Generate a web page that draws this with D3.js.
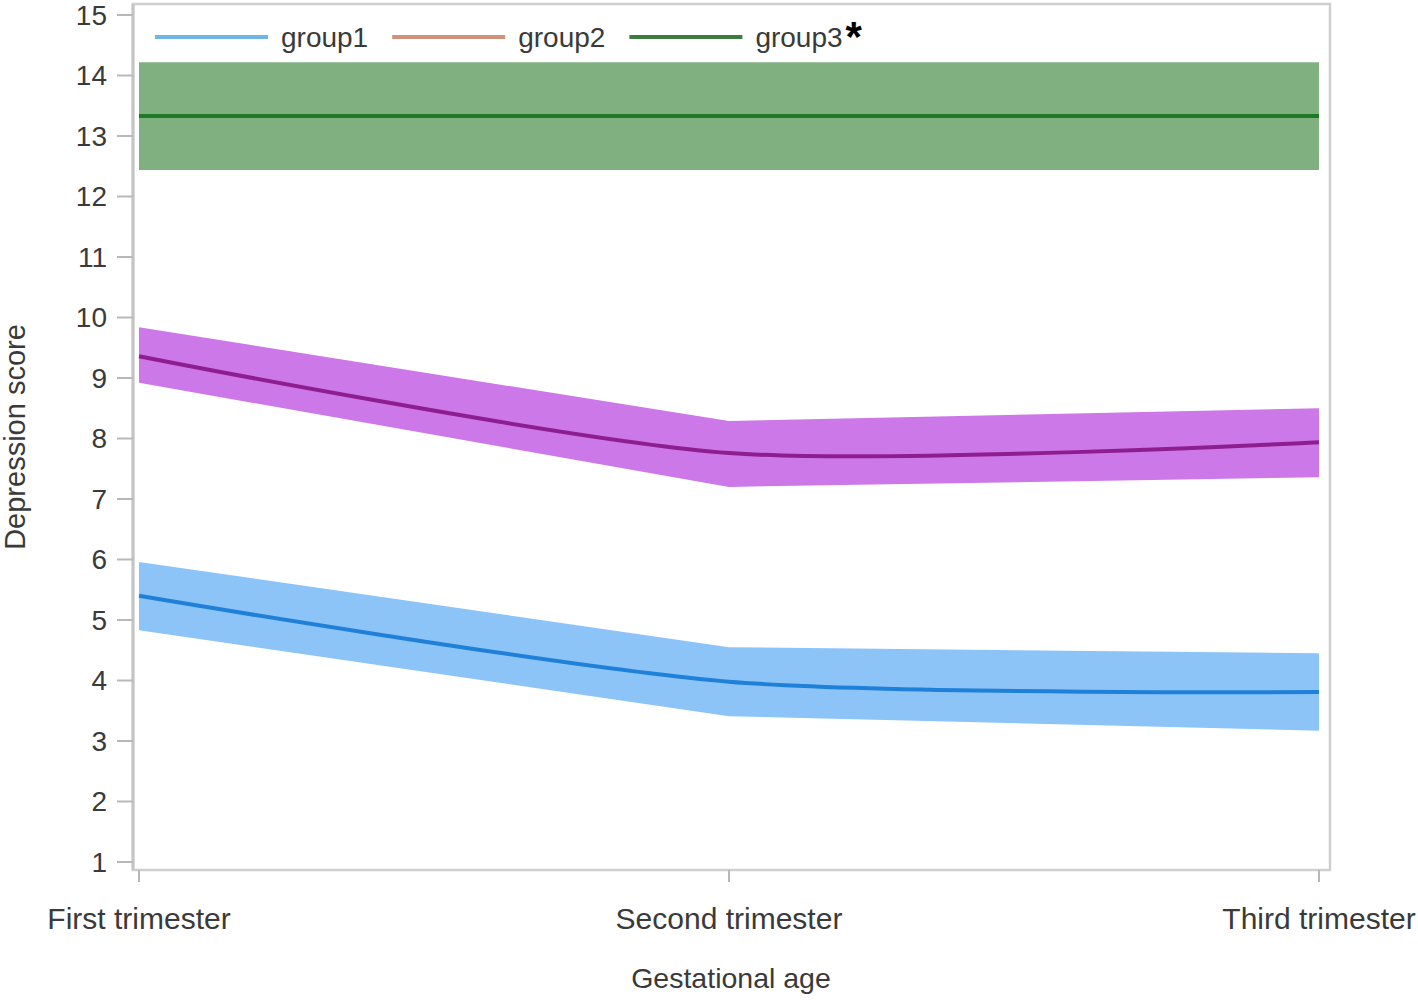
<!DOCTYPE html>
<html>
<head>
<meta charset="utf-8">
<script src="https://cdn.jsdelivr.net/npm/d3@7"></script>
<style>
  html, body { margin: 0; padding: 0; background: #fff; }
  svg { display: block; }
  text { font-family: "Liberation Sans", Arial, sans-serif; fill: #3a3a3a; }
</style>
</head>
<body>
<svg id="chart" width="1418" height="1000"></svg>
<script>
// ---- data ----
const categories = ["First trimester", "Second trimester", "Third trimester"];
const yTicks = [1, 2, 3, 4, 5, 6, 7, 8, 9, 10, 11, 12, 13, 14, 15];
const seriesNames = ["group1", "group2", "group3"];

const group1Mean  = [5.40, 3.98, 3.81];
const group1Lower = [4.83, 3.41, 3.17];
const group1Upper = [5.96, 4.55, 4.45];

const group2Mean  = [9.36, 7.76, 7.94];
const group2Lower = [8.92, 7.20, 7.36];
const group2Upper = [9.84, 8.29, 8.50];

const group3Mean  = [13.33, 13.33, 13.33];
const group3Lower = [12.44, 12.44, 12.44];
const group3Upper = [14.22, 14.22, 14.22];

const xTitle = "Gestational age";
const yTitle = "Depression score";

// ---- styles ----
const bandColors = ["#8cc4f8", "#cc78e8", "#80b080"];
const lineColors = ["#1f80d8", "#8e1e90", "#1e7a24"];
const legendColors = ["#6fb6e2", "#d09278", "#3c7c3c"];

const svg = d3.select("#chart");

const x = d3.scalePoint().domain(categories).range([139, 1319]);
const y = d3.scaleLinear().domain([1, 15]).range([862, 15]);

const frameLeft = 133, frameRight = 1330;
const frameTop = y(15) - 11, frameBottom = y(1) + 8;

// frame
svg.append("rect")
  .attr("x", frameLeft).attr("y", frameTop)
  .attr("width", frameRight - frameLeft).attr("height", frameBottom - frameTop)
  .attr("fill", "none").attr("stroke", "#cfcfcf").attr("stroke-width", 2.5);

// bands and lines
const groups = [
  {mean: group1Mean, lower: group1Lower, upper: group1Upper},
  {mean: group2Mean, lower: group2Lower, upper: group2Upper},
  {mean: group3Mean, lower: group3Lower, upper: group3Upper}
];

const area = d3.area()
  .x((d, i) => x(categories[i]))
  .y0(d => y(d[0]))
  .y1(d => y(d[1]));

const line = d3.line()
  .x((d, i) => x(categories[i]))
  .y(d => y(d))
  .curve(d3.curveCardinal.tension(0.2));

groups.forEach((g, k) => {
  const pts = g.lower.map((lo, i) => [lo, g.upper[i]]);
  svg.append("path")
    .attr("d", area(pts))
    .attr("fill", bandColors[k]);
});
groups.forEach((g, k) => {
  svg.append("path")
    .attr("d", line(g.mean))
    .attr("fill", "none")
    .attr("stroke", lineColors[k])
    .attr("stroke-width", 4);
});

// y axis
const yAxis = svg.append("g");
yAxis.append("line")
  .attr("x1", frameLeft).attr("x2", frameLeft)
  .attr("y1", frameTop).attr("y2", frameBottom)
  .attr("stroke", "#c4c4c4").attr("stroke-width", 3);
yTicks.forEach(t => {
  yAxis.append("line")
    .attr("x1", 117).attr("x2", frameLeft)
    .attr("y1", y(t)).attr("y2", y(t))
    .attr("stroke", "#b8b8b8").attr("stroke-width", 2);
  yAxis.append("text")
    .attr("x", 107).attr("y", y(t))
    .attr("text-anchor", "end")
    .attr("dominant-baseline", "central")
    .attr("font-size", 28)
    .text(t);
});

// x axis
const xAxis = svg.append("g");
categories.forEach(c => {
  xAxis.append("line")
    .attr("x1", x(c)).attr("x2", x(c))
    .attr("y1", frameBottom).attr("y2", frameBottom + 12)
    .attr("stroke", "#b8b8b8").attr("stroke-width", 2);
  xAxis.append("text")
    .attr("x", x(c)).attr("y", 929)
    .attr("text-anchor", "middle")
    .attr("font-size", 30)
    .text(c);
});

// axis titles
svg.append("text")
  .attr("x", 731).attr("y", 988)
  .attr("text-anchor", "middle")
  .attr("font-size", 28.5)
  .text(xTitle);

svg.append("text")
  .attr("transform", "translate(25,437) rotate(-90)")
  .attr("text-anchor", "middle")
  .attr("font-size", 29)
  .text(yTitle);

// legend
const legend = svg.append("g");
let lx = 155;
const ly = 37;
seriesNames.forEach((name, k) => {
  legend.append("line")
    .attr("x1", lx).attr("x2", lx + 113)
    .attr("y1", ly).attr("y2", ly)
    .attr("stroke", legendColors[k]).attr("stroke-width", 4);
  const t = legend.append("text")
    .attr("x", lx + 126).attr("y", 47)
    .attr("font-size", 28)
    .text(name);
  const w = t.node().getComputedTextLength();
  if (k === seriesNames.length - 1) {
    legend.append("text")
      .attr("x", lx + 126 + w + 3).attr("y", 51)
      .attr("font-size", 42)
      .attr("font-weight", "bold")
      .style("fill", "#000")
      .text("*");
  }
  lx = lx + 126 + w + 24;
});
</script>
</body>
</html>
